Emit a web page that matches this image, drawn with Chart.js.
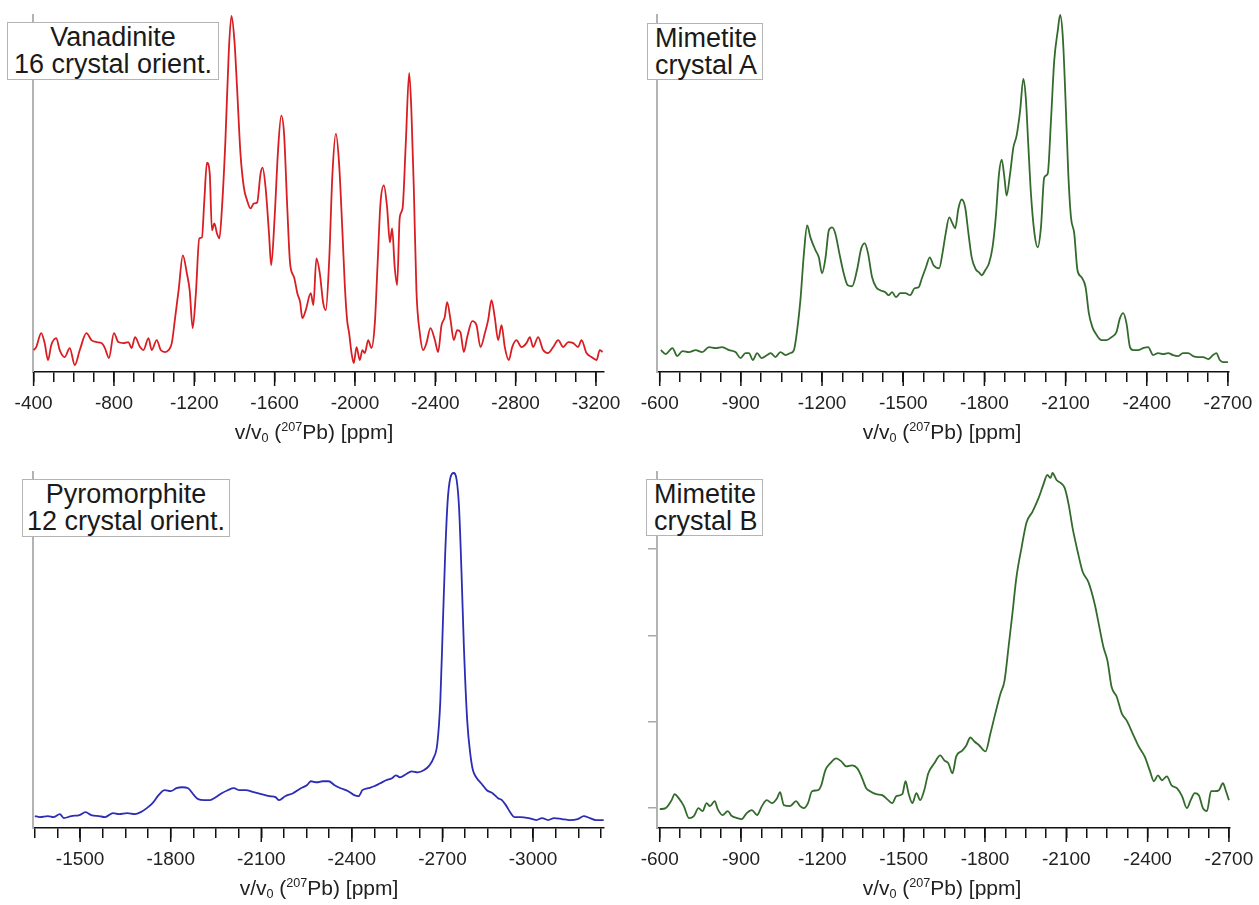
<!DOCTYPE html>
<html>
<head>
<meta charset="utf-8">
<title>207Pb NMR spectra</title>
<script src="https://cdn.jsdelivr.net/npm/chart.js@4.4.1/dist/chart.umd.min.js"></script>
<style>
body { margin:0; background:#fff; width:1259px; height:905px; position:relative; overflow:hidden; font-family:'Liberation Sans', Arial, sans-serif; }
.panel { position:absolute; }
.tag { position:absolute; background:#fff; border:1px solid #b4b4b4; font-size:27px; line-height:27px; color:#1a1a1a; box-sizing:border-box; z-index:2; white-space:nowrap; padding-top:1px; }
.xt { position:absolute; width:300px; text-align:center; font-size:21px; line-height:24px; color:#222; white-space:nowrap; }
.xt sub, .xt sup { font-size:0.6em; line-height:0; }
.xt sub { vertical-align:-0.2em; }
.xt sup { vertical-align:0.6em; }
</style>
</head>
<body>
<div class="panel" style="left:0;top:0;width:660px;height:447px"><canvas id="c1"></canvas></div>
<div class="panel" style="left:620px;top:0;width:670px;height:447px"><canvas id="c2"></canvas></div>
<div class="panel" style="left:0;top:455px;width:660px;height:448px"><canvas id="c3"></canvas></div>
<div class="panel" style="left:620px;top:455px;width:670px;height:448px"><canvas id="c4"></canvas></div>

<div class="tag" style="left:7px;top:22px;width:212px;height:58px;text-align:center">Vanadinite<br>16 crystal orient.</div>
<div class="tag" style="left:647px;top:23px;width:116px;height:57px;padding-left:7px">Mimetite<br>crystal A</div>
<div class="tag" style="left:22px;top:479px;width:208px;height:58px;text-align:center">Pyromorphite<br>12 crystal orient.</div>
<div class="tag" style="left:646px;top:479px;width:117px;height:57px;padding-left:7px">Mimetite<br>crystal B</div>

<div class="xt" style="left:164px;top:420px">v/v<sub>0</sub> (<sup>207</sup>Pb) [ppm]</div>
<div class="xt" style="left:792px;top:420px">v/v<sub>0</sub> (<sup>207</sup>Pb) [ppm]</div>
<div class="xt" style="left:169px;top:876px">v/v<sub>0</sub> (<sup>207</sup>Pb) [ppm]</div>
<div class="xt" style="left:792px;top:876px">v/v<sub>0</sub> (<sup>207</sup>Pb) [ppm]</div>

<script>
// spectra: shift in ppm, intensity in arbitrary units
var vanPpm = [-400,-413,-438,-455,-472,-488,-513,-530,-555,-580,-605,-630,-663,-688,-713,-738,-755,-775,-800,-822,-847,-872,-888,-905,-930,-947,-972,-988,-1013,-1033,-1055,-1072,-1088,-1105,-1122,-1143,-1163,-1177,-1192,-1208,-1225,-1238,-1250,-1263,-1277,-1288,-1300,-1313,-1325,-1338,-1355,-1372,-1385,-1400,-1413,-1430,-1447,-1463,-1480,-1497,-1513,-1530,-1540,-1555,-1572,-1583,-1600,-1617,-1633,-1647,-1663,-1677,-1697,-1713,-1727,-1738,-1755,-1780,-1793,-1808,-1825,-1842,-1855,-1871,-1888,-1905,-1921,-1938,-1949,-1961,-1971,-1983,-1994,-2008,-2024,-2037,-2049,-2066,-2082,-2099,-2112,-2127,-2144,-2160,-2174,-2185,-2198,-2210,-2223,-2237,-2253,-2270,-2281,-2293,-2306,-2323,-2340,-2356,-2376,-2398,-2414,-2431,-2447,-2459,-2476,-2492,-2509,-2525,-2542,-2559,-2584,-2605,-2625,-2647,-2663,-2680,-2696,-2713,-2730,-2746,-2766,-2783,-2804,-2829,-2854,-2871,-2887,-2912,-2937,-2962,-2987,-3012,-3037,-3062,-3087,-3111,-3128,-3153,-3178,-3203,-3219,-3233];
var vanInt = [22,25,39,29,12,27,34,22,15,24,7,22,39,32,30,29,24,14,39,30,29,30,24,35,25,22,34,22,32,22,20,22,29,55,82,117,99,82,44,79,134,135,172,210,199,142,149,139,134,165,232,322,357,332,285,219,185,172,164,169,170,199,205,185,139,107,155,222,257,239,165,109,95,79,70,54,62,79,67,114,99,69,62,109,199,239,209,139,89,52,39,19,9,25,12,22,19,32,24,49,105,169,187,165,130,144,105,87,155,164,229,300,262,185,82,39,22,29,44,32,20,47,55,70,52,32,42,40,20,35,51,47,25,39,52,72,55,32,47,25,12,25,32,25,29,35,25,35,22,19,25,32,25,30,29,25,32,19,15,12,22,20];

var mimAPpm = [-604,-622,-647,-665,-684,-708,-733,-757,-782,-807,-831,-856,-880,-899,-917,-930,-944,-960,-976,-997,-1010,-1028,-1046,-1065,-1083,-1096,-1108,-1120,-1133,-1145,-1157,-1176,-1188,-1200,-1213,-1225,-1237,-1249,-1264,-1280,-1295,-1311,-1329,-1345,-1358,-1370,-1385,-1400,-1415,-1434,-1446,-1459,-1473,-1489,-1508,-1526,-1542,-1557,-1569,-1584,-1598,-1612,-1633,-1645,-1657,-1670,-1682,-1692,-1704,-1716,-1729,-1741,-1753,-1768,-1780,-1790,-1803,-1817,-1830,-1842,-1854,-1864,-1874,-1882,-1895,-1907,-1919,-1932,-1944,-1953,-1962,-1972,-1985,-1997,-2009,-2021,-2034,-2046,-2058,-2071,-2080,-2090,-2100,-2110,-2120,-2132,-2144,-2159,-2174,-2186,-2199,-2215,-2233,-2251,-2270,-2288,-2301,-2313,-2325,-2338,-2350,-2368,-2387,-2405,-2424,-2442,-2461,-2479,-2497,-2516,-2534,-2553,-2571,-2590,-2608,-2627,-2645,-2657,-2670,-2682,-2700];
var mimAInt = [22,18,24,16,21,20,22,20,25,24,25,22,20,14,19,19,12,19,14,17,19,15,20,17,19,22,42,72,119,147,135,122,115,99,115,142,145,139,119,99,87,86,102,124,129,119,95,85,82,80,77,80,75,79,79,77,84,85,94,105,115,107,104,119,139,155,149,144,164,173,165,139,115,103,100,97,102,109,125,155,199,213,195,177,199,225,237,262,294,275,229,179,139,125,145,195,199,252,312,342,358,335,272,199,155,139,102,95,85,59,45,37,32,32,35,40,54,59,49,25,22,22,24,25,17,19,18,19,17,16,19,19,16,15,15,13,17,19,12,10,10];

var pyroPpm = [-1350,-1367,-1393,-1413,-1433,-1446,-1471,-1498,-1518,-1537,-1563,-1583,-1609,-1629,-1656,-1681,-1701,-1721,-1740,-1760,-1780,-1800,-1819,-1838,-1858,-1877,-1891,-1911,-1930,-1949,-1969,-1989,-2009,-2028,-2048,-2075,-2100,-2127,-2147,-2159,-2179,-2205,-2231,-2251,-2264,-2284,-2303,-2323,-2343,-2363,-2388,-2408,-2422,-2435,-2454,-2474,-2494,-2513,-2533,-2546,-2559,-2579,-2598,-2618,-2638,-2657,-2670,-2683,-2693,-2701,-2709,-2717,-2726,-2737,-2747,-2755,-2763,-2771,-2782,-2792,-2801,-2814,-2828,-2847,-2866,-2884,-2897,-2910,-2926,-2938,-2958,-2985,-3011,-3030,-3050,-3070,-3096,-3122,-3148,-3168,-3188,-3208,-3234];
var pyroInt = [12,11,12,11,14,10,12,13,16,13,12,11,15,14,15,14,16,20,25,33,38,37,40,41,40,33,29,28,28,31,35,38,40,38,38,36,34,32,31,28,32,35,40,43,47,46,47,47,43,40,37,33,32,38,40,42,45,48,50,53,51,54,57,56,58,63,70,85,128,202,275,328,352,357,350,322,258,182,108,75,58,50,45,38,35,30,28,23,15,11,11,10,8,10,8,10,9,8,9,12,10,8,8];

var mimBPpm = [-600,-622,-644,-655,-670,-689,-708,-726,-743,-758,-773,-785,-803,-814,-832,-851,-866,-885,-903,-921,-940,-959,-977,-995,-1014,-1033,-1044,-1058,-1081,-1103,-1118,-1132,-1147,-1162,-1184,-1196,-1211,-1229,-1251,-1270,-1288,-1310,-1329,-1344,-1362,-1376,-1399,-1421,-1443,-1458,-1473,-1495,-1507,-1518,-1532,-1547,-1561,-1576,-1591,-1613,-1635,-1650,-1665,-1680,-1694,-1717,-1731,-1746,-1761,-1779,-1802,-1820,-1838,-1857,-1872,-1887,-1901,-1916,-1935,-1953,-1975,-1998,-2015,-2030,-2042,-2049,-2064,-2079,-2094,-2109,-2123,-2142,-2160,-2182,-2205,-2222,-2237,-2252,-2267,-2286,-2305,-2323,-2345,-2367,-2389,-2409,-2423,-2438,-2453,-2471,-2488,-2508,-2527,-2545,-2559,-2574,-2589,-2604,-2619,-2634,-2648,-2663,-2678,-2688,-2700];
var mimBInt = [19,20,28,34,30,22,10,12,20,17,25,22,27,19,13,17,12,10,9,15,18,13,22,28,25,30,36,23,22,27,22,20,25,37,38,43,58,65,70,67,62,63,60,52,40,37,34,33,28,25,32,34,47,35,25,35,28,38,55,65,73,68,65,55,72,78,83,91,87,83,77,95,115,135,148,182,215,252,282,307,318,332,345,355,352,357,350,347,342,325,302,278,258,247,225,202,182,168,142,132,115,108,95,82,72,57,47,53,48,52,43,40,32,20,28,35,33,20,17,37,37,38,45,38,28];

// axis tick labels
var vanLabels = [-400,-800,-1200,-1600,-2000,-2400,-2800,-3200];
var mimLabels = [-600,-900,-1200,-1500,-1800,-2100,-2400,-2700];
var pyroLabels = [-1500,-1800,-2100,-2400,-2700,-3000];
var mimBYTicks = [20,107,193,281];

Chart.defaults.font.family = "'Liberation Sans', Arial, sans-serif";

function steps(from, to, step){
    var out = [];
    for (var v = from; v >= to - 0.001; v -= step) out.push(v);
    return out;
}

// longer tick marks on the labelled values
var majorTicks = {
    id: 'majorTicks',
    afterDraw: function(chart){
        var s = chart.scales.x, ctx = chart.ctx;
        var labels = chart.options.plugins.majorTicks.labels;
        ctx.save();
        ctx.strokeStyle = '#111';
        ctx.lineWidth = 1.5;
        labels.forEach(function(v){
            var px = s.getPixelForValue(v);
            ctx.beginPath();
            ctx.moveTo(px, s.top);
            ctx.lineTo(px, s.top + 14);
            ctx.stroke();
        });
        ctx.restore();
    }
};

function makePanel(id, ppm, inten, color, xr, minor, labels, pad, yTicks){
    var pts = [];
    for (var i = 0; i < Math.min(ppm.length, inten.length); i++) pts.push({x: ppm[i], y: inten[i]});

    var yAxis = {
        type: 'linear', min: 0, max: 358,
        grid: { display: false },
        ticks: { display: false },
        border: { display: true, color: '#b3b3b3', width: 2 },
        afterFit: function(s){ s.width = 0; }
    };
    if (yTicks) {
        yAxis.grid = { display: true, drawOnChartArea: false, drawTicks: true, tickLength: 9, color: '#a8a8a8', lineWidth: 1.5 };
        yAxis.afterBuildTicks = function(s){ s.ticks = yTicks.map(function(v){ return {value: v}; }); };
    }

    return new Chart(document.getElementById(id), {
        type: 'line',
        data: {
            datasets: [{
                data: pts,
                borderColor: color,
                borderWidth: 1.8,
                pointRadius: 0,
                cubicInterpolationMode: 'monotone',
                clip: false
            }]
        },
        options: {
            responsive: true,
            maintainAspectRatio: false,
            animation: false,
            layout: { padding: pad },
            plugins: {
                legend: { display: false },
                tooltip: { enabled: false },
                majorTicks: { labels: labels }
            },
            scales: {
                x: {
                    type: 'linear',
                    reverse: true,
                    min: xr[0], max: xr[1],
                    afterBuildTicks: function(s){ s.ticks = minor.map(function(v){ return {value: v}; }); },
                    afterFit: function(s){ s.height = 75; },
                    grid: { display: true, drawOnChartArea: false, drawTicks: true, tickLength: 10, color: '#111', lineWidth: 1.5 },
                    border: { display: true, color: '#111', width: 1.5 },
                    ticks: {
                        autoSkip: false, maxRotation: 0, padding: 12,
                        color: '#222', font: { size: 19, lineHeight: 1 },
                        callback: function(v){ return labels.indexOf(v) >= 0 ? String(v) : ''; }
                    },
                    title: { display: false }
                },
                y: yAxis
            }
        },
        plugins: [majorTicks]
    });
}

makePanel('c1', vanPpm, vanInt, '#d81e22', [-3240, -397], steps(-400, -3200, 100), vanLabels, {left: 33, top: 15, right: 56, bottom: 0});
makePanel('c2', mimAPpm, mimAInt, '#336b2c', [-2704, -590], steps(-600, -2700, 75), mimLabels, {left: 37, top: 15, right: 61, bottom: 0});
makePanel('c3', pyroPpm, pyroInt, '#2c2cb4', [-3235, -1344], steps(-1350, -3225, 75), pyroLabels, {left: 33, top: 17, right: 56, bottom: 0});
makePanel('c4', mimBPpm, mimBInt, '#336b2c', [-2704, -590], steps(-600, -2700, 75), mimLabels, {left: 37, top: 17, right: 60, bottom: 0}, mimBYTicks);
</script>
</body>
</html>
